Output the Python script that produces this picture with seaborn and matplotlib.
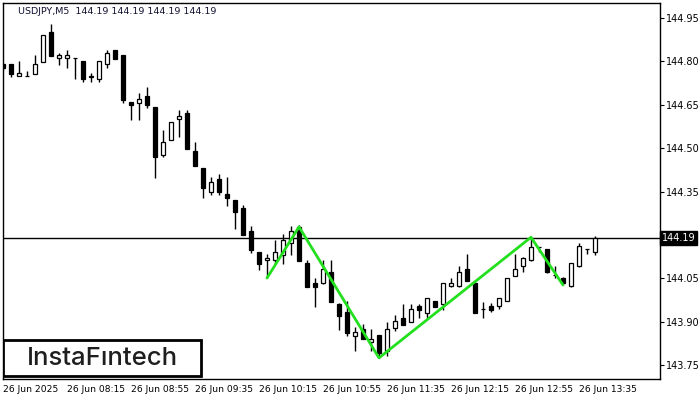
import matplotlib
matplotlib.use('Agg')
import matplotlib.pyplot as plt
import matplotlib.patches as mpatches
import numpy as np
import pandas as pd
import seaborn as sns

# ---- candle data (USDJPY, M5) ----
opens = [144.791, 144.791, 144.748, 144.749, 144.757, 144.799, 144.901, 144.811, 144.811, 144.811,
         144.801, 144.748, 144.740, 144.790, 144.839, 144.822, 144.659, 144.657, 144.680, 144.643,
         144.477, 144.529, 144.600, 144.622, 144.490, 144.430, 144.349, 144.393, 144.341, 144.321,
         144.293, 144.213, 144.141, 144.112, 144.112, 144.131, 144.171, 144.226, 144.102, 144.033,
         144.033, 144.071, 143.963, 143.933, 143.851, 143.874, 143.831, 143.854, 143.800, 143.880,
         143.912, 143.900, 143.954, 143.931, 143.971, 143.963, 144.022, 144.022, 144.082, 144.033,
         143.943, 143.954, 143.953, 143.971, 144.059, 144.091, 144.112, 144.158, 144.151, 144.061,
         144.052, 144.022, 144.091, 144.151, 144.140]
highs = [144.793, 144.791, 144.801, 144.768, 144.822, 144.892, 144.929, 144.830, 144.839, 144.812,
         144.802, 144.759, 144.802, 144.839, 144.840, 144.823, 144.660, 144.690, 144.712, 144.644,
         144.563, 144.590, 144.632, 144.632, 144.521, 144.431, 144.400, 144.410, 144.400, 144.322,
         144.302, 144.231, 144.142, 144.134, 144.182, 144.203, 144.232, 144.233, 144.113, 144.050,
         144.113, 144.113, 143.964, 143.971, 143.883, 143.891, 143.874, 143.855, 143.900, 143.925,
         143.963, 143.963, 143.963, 143.982, 143.972, 144.034, 144.052, 144.092, 144.133, 144.034,
         143.969, 143.966, 143.982, 144.051, 144.133, 144.123, 144.192, 144.160, 144.152, 144.092,
         144.053, 144.103, 144.172, 144.152, 144.195]
lows = [144.770, 144.747, 144.748, 144.748, 144.756, 144.798, 144.818, 144.787, 144.778, 144.740,
        144.730, 144.730, 144.730, 144.778, 144.808, 144.657, 144.598, 144.598, 144.640, 144.398,
        144.470, 144.528, 144.540, 144.497, 144.438, 144.329, 144.338, 144.338, 144.300, 144.221,
        144.200, 144.138, 144.080, 144.051, 144.099, 144.100, 144.131, 144.110, 144.020, 143.952,
        144.032, 143.968, 143.871, 143.851, 143.799, 143.840, 143.799, 143.776, 143.782, 143.869,
        143.888, 143.899, 143.912, 143.912, 143.951, 143.940, 144.021, 144.021, 144.041, 143.930,
        143.912, 143.932, 143.944, 143.970, 144.058, 144.071, 144.111, 144.141, 144.070, 144.050,
        144.027, 144.021, 144.090, 144.133, 144.130]
closes = [144.777, 144.757, 144.759, 144.749, 144.790, 144.891, 144.819, 144.821, 144.821, 144.811,
          144.740, 144.746, 144.801, 144.828, 144.809, 144.666, 144.649, 144.669, 144.649, 144.470,
          144.521, 144.589, 144.611, 144.498, 144.439, 144.361, 144.382, 144.349, 144.329, 144.280,
          144.201, 144.149, 144.100, 144.122, 144.141, 144.181, 144.213, 144.111, 144.021, 144.021,
          144.082, 143.969, 143.921, 143.862, 143.863, 143.841, 143.842, 143.791, 143.874, 143.902,
          143.889, 143.944, 143.941, 143.981, 143.952, 144.033, 144.033, 144.071, 144.042, 143.931,
          143.943, 143.941, 143.981, 144.050, 144.081, 144.122, 144.159, 144.160, 144.071, 144.061,
          144.033, 144.102, 144.162, 144.151, 144.190]

# pattern zigzag (bar index, price)
zz_bar = [33, 37, 47, 66, 70]
zz_price = [144.051, 144.228, 143.775, 144.192, 144.027]

last_price = 144.19
y_ticks = [143.75, 143.90, 144.05, 144.20, 144.35, 144.50, 144.65, 144.80, 144.95]
x_tick_bars = [0, 8, 16, 24, 32, 40, 48, 56, 64, 72]
x_tick_labels = ['26 Jun 2025', '26 Jun 08:15', '26 Jun 08:55', '26 Jun 09:35', '26 Jun 10:15',
                 '26 Jun 10:55', '26 Jun 11:35', '26 Jun 12:15', '26 Jun 12:55', '26 Jun 13:35']

df = pd.DataFrame({'open': opens, 'high': highs, 'low': lows, 'close': closes})
df['bar'] = np.arange(len(df))
df['bull'] = df['close'] >= df['open']

sns.set_style('white')
plt.rcParams['font.family'] = ['DejaVu Sans']

fig = plt.figure(figsize=(7, 4), dpi=100)
ax = fig.add_axes([2.5 / 700, 21 / 400, 657 / 700, 376 / 400])

# wicks
ax.vlines(df['bar'], df['low'], df['high'], color='black', lw=1, zorder=2)

# bodies
body_h = (df['close'] - df['open']).abs().clip(lower=0.0008)
body_b = df[['open', 'close']].min(axis=1)
face = ['white' if b else 'black' for b in df['bull']]
ax.bar(df['bar'], body_h, bottom=body_b, width=0.62, color=face,
       edgecolor='black', linewidth=0.9, zorder=3)

# current price line
ax.axhline(last_price, color='black', lw=1, zorder=1)

# zigzag pattern
zz = pd.DataFrame({'bar': zz_bar, 'price': zz_price})
sns.lineplot(data=zz, x='bar', y='price', ax=ax, color='#22e01e', lw=2, zorder=4,
             sort=False, estimator=None)

ax.set_xlim(-0.0625, -0.0625 + 657 / 8)
ax.set_ylim(143.702, 145.002)

ax.yaxis.tick_right()
ax.set_yticks(y_ticks)
# the 144.20 label sits under the last-price box, so leave it blank
ax.set_yticklabels(['' if abs(v - 144.20) < 1e-6 else f'{v:.2f}' for v in y_ticks], fontsize=7)
ax.set_xticks(x_tick_bars)
ax.set_xticklabels(x_tick_labels, fontsize=6.6, ha='left')
ax.tick_params(axis='both', length=3, width=0.8, color='black', pad=1.5, labelcolor='black')
ax.tick_params(axis='x', pad=1)
ax.set_xlabel('')
ax.set_ylabel('')
for sp in ax.spines.values():
    sp.set_color('black')
    sp.set_linewidth(1)
    sp.set_visible(True)

# last price box
ax.text(1.0035, last_price, f'{last_price:.2f}', transform=ax.get_yaxis_transform(),
        fontsize=7, color='white', va='center', ha='left', zorder=10, clip_on=False,
        bbox=dict(boxstyle='square,pad=0.18', fc='black', ec='black'))

# header
ax.text(16 / 657, 1 - 8 / 376, 'USDJPY,M5  144.19 144.19 144.19 144.19', transform=ax.transAxes,
        fontsize=6.8, color='#101030', va='center', ha='left')

# logo
logo = mpatches.Rectangle((0.5 / 657, 3 / 376), 198 / 657, 36 / 376, transform=ax.transAxes,
                          fc='white', ec='black', lw=2, zorder=8)
ax.add_patch(logo)
ax.text(100 / 657, 20.5 / 376, 'InstaF\u0131ntech', transform=ax.transAxes, fontsize=18.5,
        family=['Inter', 'DejaVu Sans'], fontweight='medium', color='#1e1e1e',
        ha='center', va='center', zorder=9)

fig.savefig('out.png', dpi=100)
